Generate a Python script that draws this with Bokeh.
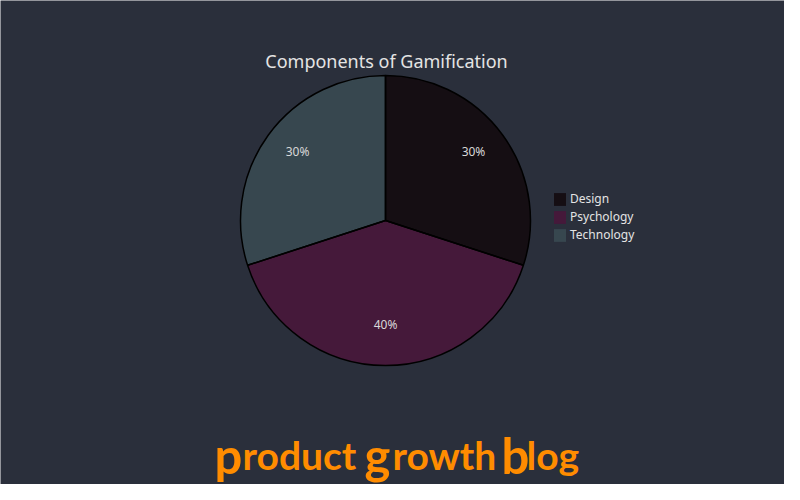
import numpy as np
from bokeh.plotting import figure
from bokeh.models import ColumnDataSource, Legend, LegendItem
from bokeh.core.properties import value
from bokeh.embed import file_html
from bokeh.resources import INLINE

categories = ["Design", "Psychology", "Technology"]
shares = [30, 40, 30]
colors = ["#150e13", "#45193a", "#37474f"]
title_text = "Components of Gamification"
footer_pieces = ["p", "roduct", "g", "rowth", "b", "log"]

W, H = 784, 484
BG = "#2a2f3b"
cx, cy, r = 385, 264, 145

vals = np.array(shares, dtype=float)
frac = vals / vals.sum()
cum = np.concatenate([[0], np.cumsum(frac)])
start = np.pi / 2 - cum[:-1] * 2 * np.pi
end = np.pi / 2 - cum[1:] * 2 * np.pi
mid = (start + end) / 2
lab_r = 0.75 * r
lab_dy = 5

src = ColumnDataSource(dict(
    name=categories, color=colors, start=start, end=end,
    x=[cx] * 3, y=[cy] * 3,
    lx=cx + lab_r * np.cos(mid), ly=cy + lab_r * np.sin(mid) + lab_dy,
    lab=[f"{v:.0f}%" for v in frac * 100],
))

p = figure(width=W, height=H, x_range=(0, W), y_range=(0, H),
           output_backend="svg", toolbar_location=None,
           min_border=0, background_fill_color=BG, border_fill_color=BG,
           outline_line_color=None)
p.axis.visible = False
p.grid.visible = False

fill_r = p.wedge(x="x", y="y", radius=r, start_angle="start", end_angle="end",
                 direction="clock", fill_color="color", line_color=None,
                 source=src)
p.wedge(x="x", y="y", radius=r, start_angle="start", end_angle="end",
        direction="clock", fill_color=None, line_color="#000000",
        line_width=1.5, source=src)

p.text(x="lx", y="ly", text="lab", source=src, text_align="center",
       text_baseline="middle", text_color="#d8d8d8", text_font_size="12px",
       text_font=value("Noto Sans"))

p.text(x=[cx + 1], y=[H - 60], text=[title_text], text_align="center",
       text_baseline="middle", text_color="#e4e4e4", text_font_size="18px",
       text_font=value("Noto Sans"))

# footer wordmark: enlarged initials
fx = [214, 242, 364, 392, 501, 526]
fs = ["49px", "39px", "49px", "39px", "49px", "39px"]
for piece, x0, size in zip(footer_pieces, fx, fs):
    p.text(x=[x0], y=[30], text=[piece], text_align="left",
           text_baseline="alphabetic", text_color="#ff8c00",
           text_font_size=size, text_font_style="bold",
           text_font=value("Lato"))

items = [LegendItem(label=c, renderers=[fill_r], index=i)
         for i, c in enumerate(categories)]
legend = Legend(items=items, location=(552, 241), padding=0, margin=0,
                border_line_color=None, background_fill_alpha=0,
                glyph_width=15, glyph_height=16, label_height=16,
                spacing=1, label_standoff=3, label_text_color="#e4e4e4",
                label_text_font_size="12px", label_text_font="Noto Sans")
p.add_layout(legend, "center")

open("out.html", "w").write(file_html(p, INLINE))
